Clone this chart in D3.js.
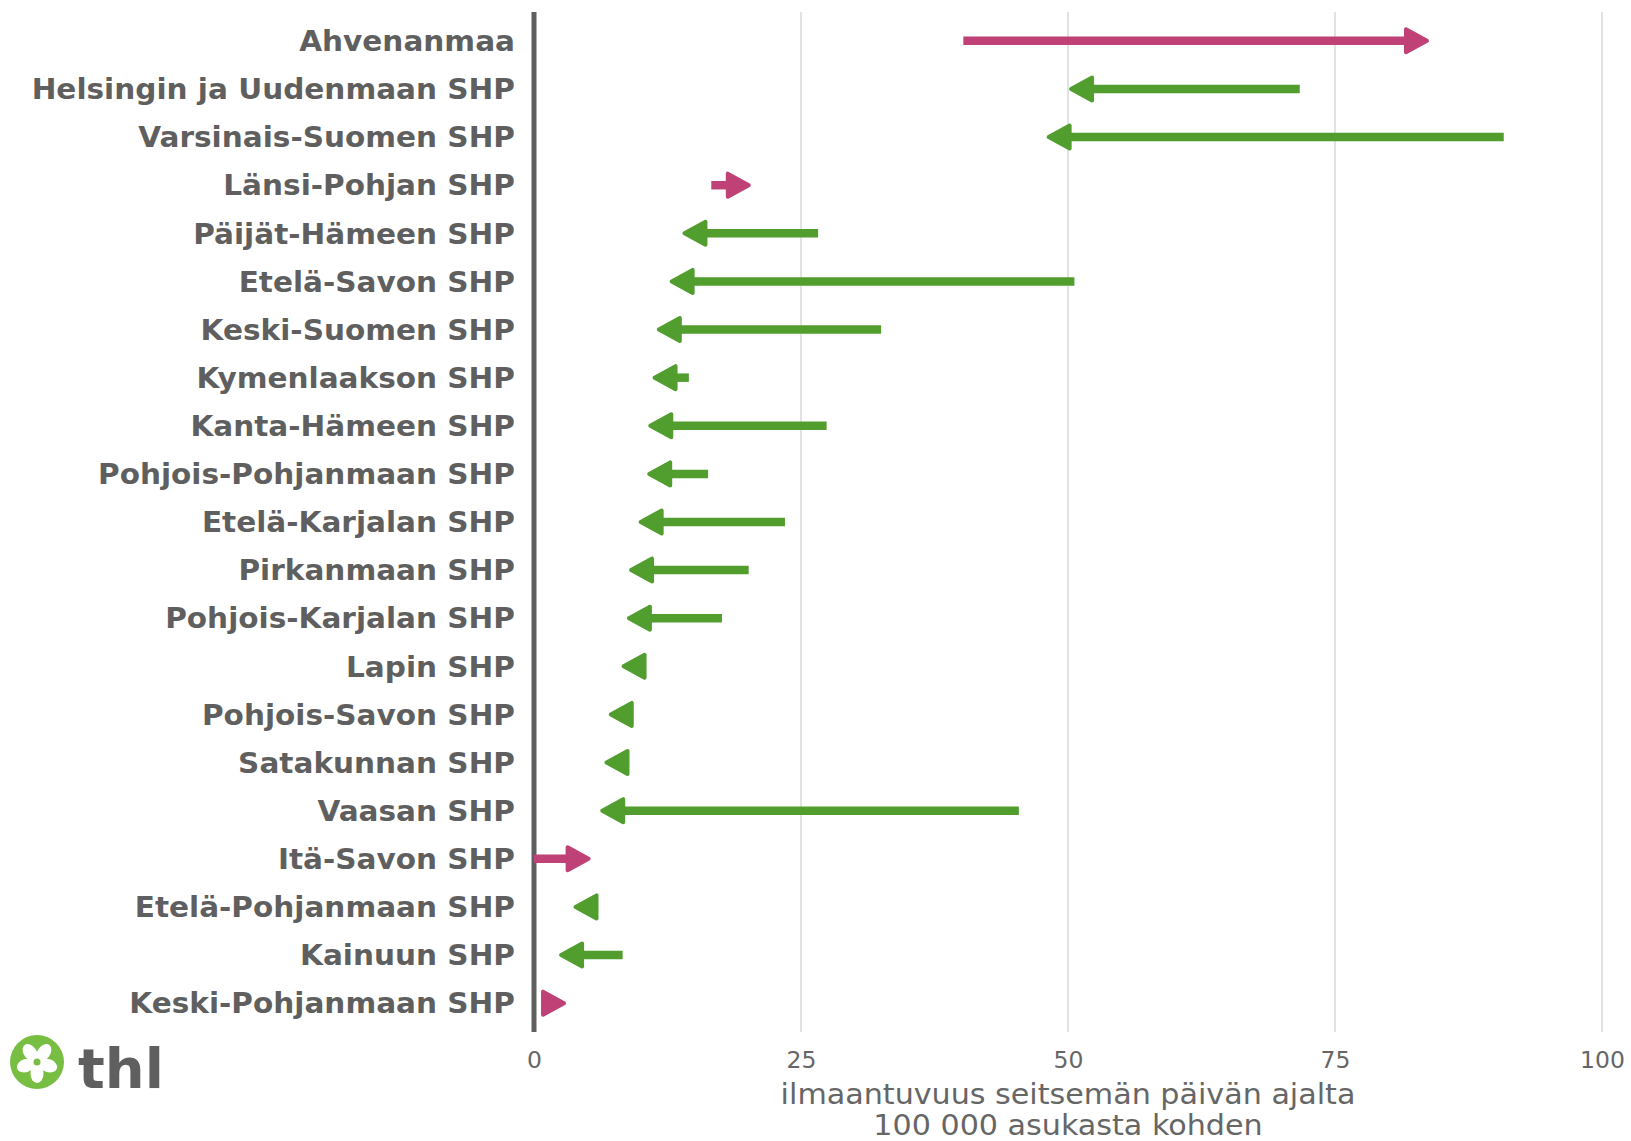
<!DOCTYPE html>
<html>
<head>
<meta charset="utf-8">
<script src="https://cdn.jsdelivr.net/npm/d3@7/dist/d3.min.js"></script>
<style>
  html, body { margin: 0; padding: 0; background: #fff; }
  svg { display: block; }
</style>
</head>
<body>
<svg id="chart" width="1631" height="1141"></svg>
<script>
// ---- data ----
const regions = [
  "Ahvenanmaa", "Helsingin ja Uudenmaan SHP", "Varsinais-Suomen SHP", "Länsi-Pohjan SHP",
  "Päijät-Hämeen SHP", "Etelä-Savon SHP", "Keski-Suomen SHP", "Kymenlaakson SHP",
  "Kanta-Hämeen SHP", "Pohjois-Pohjanmaan SHP", "Etelä-Karjalan SHP", "Pirkanmaan SHP",
  "Pohjois-Karjalan SHP", "Lapin SHP", "Pohjois-Savon SHP", "Satakunnan SHP",
  "Vaasan SHP", "Itä-Savon SHP", "Etelä-Pohjanmaan SHP", "Kainuun SHP", "Keski-Pohjanmaan SHP"
];
const previousValues = [40.2, 71.7, 90.8, 16.6, 26.6, 50.6, 32.5, 14.5, 27.4, 16.3, 23.5, 20.1,
  17.6, 10.2, 9.0, 8.6, 45.4, 0.0, 5.8, 8.3, 1.0];
const currentValues = [83.8, 50.1, 48.0, 20.3, 13.9, 12.7, 11.5, 11.1, 10.7, 10.6, 9.8, 8.9,
  8.7, 8.2, 7.0, 6.6, 6.2, 5.3, 3.7, 2.35, 3.0];
const xTicks = [0, 25, 50, 75, 100];
const xTitleLines = ["ilmaantuvuus seitsemän päivän ajalta", "100 000 asukasta kohden"];

const upColor = "#BF4176";
const downColor = "#519E2F";
const textColor = "#5f5f5f";

const rows = regions.map((r, i) => ({ region: r, prev: previousValues[i], curr: currentValues[i] }));

const svg = d3.select("#chart");

const x = d3.scaleLinear().domain([0, 100]).range([534, 1602]);
const y = d3.scalePoint().domain(regions).range([12, 1032]).padding(0.6);
const panelTop = 12, panelBottom = 1032;

// gridlines
svg.append("g").selectAll("line").data(xTicks.filter(d => d > 0)).join("line")
  .attr("x1", d => x(d)).attr("x2", d => x(d))
  .attr("y1", panelTop).attr("y2", panelBottom)
  .attr("stroke", "#e0e3e6").attr("stroke-width", 2);

// x axis tick labels via d3 axis
const xAxis = d3.axisBottom(x).tickValues(xTicks).tickSize(0).tickPadding(0).tickFormat(d3.format("d"));
const gx = svg.append("g").attr("transform", `translate(0, ${panelBottom})`).call(xAxis);
gx.select(".domain").remove();
gx.selectAll("text")
  .attr("dy", null).attr("y", 36)
  .attr("font-family", "DejaVu Sans").attr("font-size", 23.5)
  .attr("fill", "#666");

// x title
const cx = (x(0) + x(100)) / 2;
svg.append("g").selectAll("text").data(xTitleLines).join("text")
  .attr("transform", (d, i) => `translate(${cx}, ${1104 + i * 31}) scale(1.04, 1)`)
  .attr("text-anchor", "middle")
  .attr("font-family", "DejaVu Sans").attr("font-size", 29)
  .attr("fill", "#666")
  .text(d => d);

// y axis labels
const yAxis = d3.axisLeft(y).tickSize(0).tickPadding(0);
const gy = svg.append("g").attr("transform", `translate(515, 0)`).call(yAxis);
gy.select(".domain").remove();
gy.selectAll("text")
  .attr("x", 0).attr("dy", "0.34em")
  .attr("transform", "scale(1.037, 1)")
  .attr("font-family", "DejaVu Sans").attr("font-weight", "bold").attr("font-size", 28.5)
  .attr("fill", textColor);

// y axis line
svg.append("line")
  .attr("x1", x(0)).attr("x2", x(0))
  .attr("y1", panelTop).attr("y2", panelBottom)
  .attr("stroke", "#5f5f5f").attr("stroke-width", 5);

// arrows
const headLen = 25, headHalf = 13.5, joinW = 4;
const g = svg.append("g");
rows.forEach(d => {
  const dir = d.curr >= d.prev ? 1 : -1;
  const color = dir > 0 ? upColor : downColor;
  const xs = x(d.prev), xt = x(d.curr);
  const lineEnd = xt - dir * (headLen - 4);
  if ((lineEnd - xs) * dir > 0) {
    g.append("line")
      .attr("x1", xs).attr("x2", lineEnd)
      .attr("y1", y(d.region)).attr("y2", y(d.region))
      .attr("stroke", color).attr("stroke-width", 8.5);
  }
  const yc = y(d.region);
  const tip = xt - dir * joinW / 2;
  const back = xt - dir * (headLen - joinW / 2);
  const hh = headHalf - joinW / 2;
  g.append("path")
    .attr("d", `M${tip},${yc} L${back},${yc - hh} L${back},${yc + hh} Z`)
    .attr("fill", color).attr("stroke", color)
    .attr("stroke-width", joinW).attr("stroke-linejoin", "round");
});

// logo
const logo = svg.append("g").attr("transform", "translate(37, 1062)");
logo.append("circle").attr("r", 27).attr("fill", "#78BE43");
for (let k = 0; k < 5; k++) {
  logo.append("ellipse")
    .attr("cx", 0).attr("cy", -11.5).attr("rx", 6.5).attr("ry", 9.5)
    .attr("fill", "#fff")
    .attr("transform", `rotate(${k * 72 + 36})`);
}
logo.append("circle").attr("r", 3.5).attr("fill", "#78BE43");
svg.append("text")
  .attr("x", 78).attr("y", 1088)
  .attr("font-family", "DejaVu Sans").attr("font-weight", "bold").attr("font-size", 56)
  .attr("fill", "#5f5f5f")
  .text("thl");
</script>
</body>
</html>
